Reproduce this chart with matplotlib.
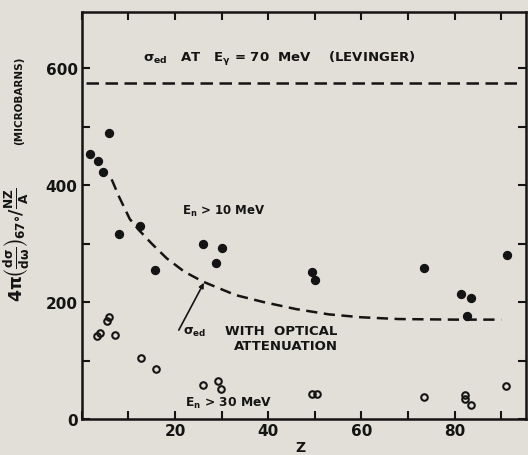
import matplotlib.pyplot as plt
import numpy as np

# E_n > 10 MeV (filled points)
z_10 = [1.7, 3.4, 4.5, 5.8, 7.9, 12.4, 15.8, 25.9, 28.9, 30.0, 49.3, 50.1,
        73.4, 81.4, 82.7, 83.5, 91.2]
sig_10 = [453, 441, 422, 489, 316, 330, 255, 299, 267, 292, 251, 237,
          258, 213, 176, 207, 280]

# E_n > 30 MeV (open points)
z_30 = [3.2, 3.9, 5.3, 5.8, 7.1, 12.8, 16.0, 26.0, 29.2, 29.9, 49.3, 50.4,
        73.4, 82.2, 82.2, 83.5, 91.0]
sig_30 = [142, 147, 167, 174, 144, 104, 85, 58, 65, 52, 43, 43,
          37, 41, 34, 24, 56]

# sigma_ed with optical attenuation (dashed curve)
z_opt = [6.4, 8.0, 10.3, 12.4, 15.0, 18.2, 22.0, 26.0, 33.0, 39.0, 46.0,
         53.0, 60.0, 68.0, 80.0, 90.0]
sig_opt = [410, 380, 342, 322, 300, 275, 252, 235, 212, 200, 188,
           179, 174, 171, 170, 170]

levinger = 575

bg = "#e2dfd8"
ink = "#141414"

plt.rcParams['font.family'] = ['DejaVu Sans']
plt.rcParams['font.weight'] = 'bold'
plt.rcParams['mathtext.default'] = 'bf'

fig = plt.figure(figsize=(5.28, 4.56), dpi=100, facecolor=bg)
ax = fig.add_axes([0.155, 0.079, 0.841, 0.892])
ax.set_facecolor(bg)

ax.axhline(levinger, color=ink, lw=1.8, dashes=(5, 2.6), xmin=0.01, xmax=0.99)
ax.plot(z_opt, sig_opt, color=ink, lw=1.8, dashes=(4.5, 2.6))

ax.plot(z_10, sig_10, 'o', color=ink, ms=5.7, ls='none')
ax.plot(z_30, sig_30, 'o', mfc='none', mec=ink, mew=1.5, ms=4.7, ls='none')

# annotation pointer to the curve
ax.annotate("", xy=(26.2, 233), xytext=(20.8, 152),
            arrowprops=dict(arrowstyle='-|>', color=ink, lw=1.2,
                            mutation_scale=7, shrinkA=0, shrinkB=0))

ax.text(13.1, 617, r"$\sigma_{ed}$   AT   $E_{\gamma}$ = 70  MeV    (LEVINGER)",
        fontsize=9.5, color=ink, fontweight='bold', va='center', ha='left')
ax.text(21.5, 356, r"$E_{n}$ > 10 MeV", fontsize=8.5, color=ink,
        fontweight='bold', va='center', ha='left')
ax.text(22.1, 29, r"$E_{n}$ > 30 MeV", fontsize=8.8, color=ink,
        fontweight='bold', va='center', ha='left')
ax.text(21.8, 150, r"$\sigma_{ed}$", fontsize=9, color=ink, va='center', ha='left')
ax.text(42.8, 152, "WITH  OPTICAL", fontsize=9.5, color=ink,
        fontweight='bold', va='center', ha='center')
ax.text(43.8, 126, "ATTENUATION", fontsize=9.5, color=ink,
        fontweight='bold', va='center', ha='center')

ax.set_xlim(0, 95.3)
ax.set_ylim(0, 696)
ax.set_xticks(np.arange(0, 95, 10))
ax.set_xticklabels(['' if v % 20 or v == 0 else str(v) for v in range(0, 95, 10)])
ax.set_yticks(np.arange(0, 700, 100))
ax.set_yticklabels([str(v) if v % 200 == 0 else '' for v in range(0, 700, 100)])

ax.tick_params(direction='in', length=6, width=1.5, colors=ink,
               top=True, right=True, labelsize=11, pad=3)
for lab in ax.get_xticklabels() + ax.get_yticklabels():
    lab.set_fontweight('bold')
for s in ax.spines.values():
    s.set_linewidth(1.8)
    s.set_color(ink)

# x label placed by hand so it fits in the short bottom margin
fig.text(0.569, 0.018, "Z", fontsize=10, fontweight='bold', color=ink,
         ha='center', va='center')

fig.text(0.032, 0.463, r"$4\pi\left(\frac{d\sigma}{d\omega}\right)_{67°}/\frac{NZ}{A}$",
         rotation=90, fontsize=12.5, color=ink, ha='center', va='center')
fig.text(0.036, 0.78, "(MICROBARNS)", rotation=90, fontsize=7.5, color=ink,
         fontweight='bold', ha='center', va='center')

fig.savefig("out.png", dpi=100, facecolor=bg)
